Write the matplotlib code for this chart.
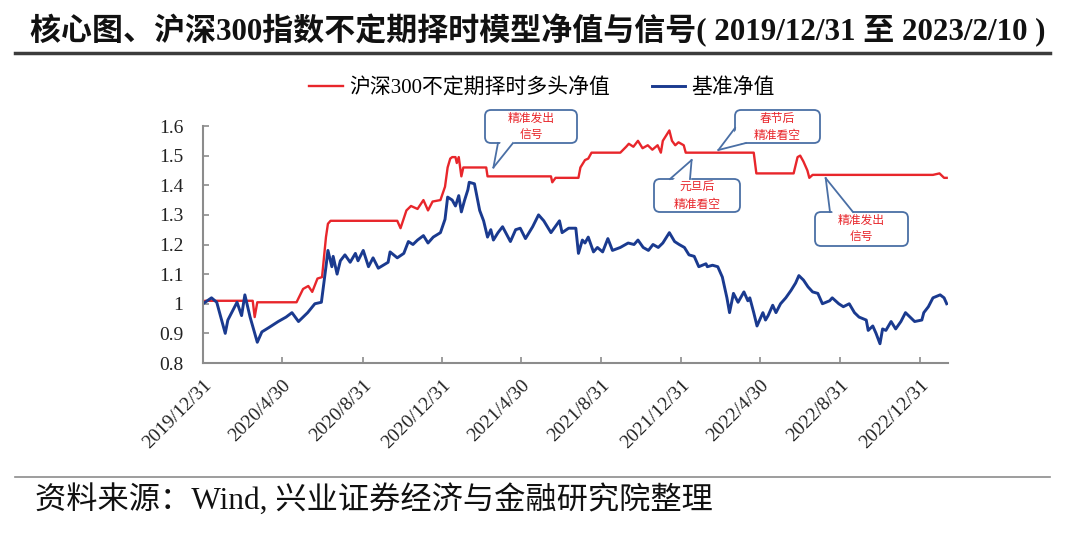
import matplotlib
matplotlib.use("Agg")
import matplotlib.pyplot as plt
import matplotlib.dates as mdates
from matplotlib.patches import FancyBboxPatch, Polygon
from matplotlib.lines import Line2D
from matplotlib.transforms import IdentityTransform
import pandas as pd

W, H = 1080, 541
RED = "#E8262B"
BLUE = "#1A3A8F"
BOX_EDGE = "#4A6FA5"
SERIF = ["Liberation Serif", "Noto Sans CJK SC"]
CJK = ["Noto Sans CJK SC", "DejaVu Sans"]

title = "核心图、沪深300指数不定期择时模型净值与信号( 2019/12/31 至 2023/2/10 )"
source = "资料来源：Wind, 兴业证券经济与金融研究院整理"
strat_name = "沪深300不定期择时多头净值"
bench_name = "基准净值"

x_tick_labels = ["2019/12/31", "2020/4/30", "2020/8/31", "2020/12/31", "2021/4/30",
                 "2021/8/31", "2021/12/31", "2022/4/30", "2022/8/31", "2022/12/31"]
y_ticks = [0.8, 0.9, 1.0, 1.1, 1.2, 1.3, 1.4, 1.5, 1.6]
y_tick_labels = ["0.8", "0.9", "1", "1.1", "1.2", "1.3", "1.4", "1.5", "1.6"]

# strategy (red) net value
strat_dates = ["2019-12-31", "2020-01-03", "2020-03-16", "2020-03-19", "2020-03-23", "2020-05-22",
               "2020-06-01", "2020-06-09", "2020-06-15", "2020-06-23", "2020-06-30", "2020-07-06",
               "2020-07-09", "2020-07-13", "2020-10-23", "2020-10-28", "2020-11-06", "2020-11-13",
               "2020-11-23", "2020-12-02", "2020-12-09", "2020-12-16", "2020-12-28", "2021-01-04",
               "2021-01-08", "2021-01-12", "2021-01-15", "2021-01-20", "2021-01-22", "2021-01-25",
               "2021-01-29", "2021-02-01", "2021-03-08", "2021-03-10", "2021-06-15", "2021-06-17",
               "2021-06-22", "2021-07-27", "2021-07-30", "2021-08-06", "2021-08-11", "2021-08-16",
               "2021-09-29", "2021-10-08", "2021-10-12", "2021-10-19", "2021-10-26", "2021-11-02",
               "2021-11-10", "2021-11-17", "2021-11-25", "2021-11-30", "2021-12-03", "2021-12-13",
               "2021-12-17", "2021-12-22", "2021-12-27", "2022-01-04", "2022-01-07", "2022-04-21",
               "2022-04-25", "2022-06-21", "2022-06-27", "2022-07-01", "2022-07-06", "2022-07-12",
               "2022-07-15", "2022-07-20", "2023-01-20", "2023-01-30", "2023-02-06", "2023-02-10"]
strat_vals = [1.00, 1.01, 1.01, 0.955, 1.005, 1.005,
              1.05, 1.06, 1.04, 1.085, 1.09, 1.225,
              1.27, 1.28, 1.28, 1.255, 1.315, 1.33,
              1.32, 1.35, 1.315, 1.345, 1.35, 1.395,
              1.46, 1.49, 1.495, 1.495, 1.475, 1.495,
              1.43, 1.46, 1.46, 1.43, 1.43, 1.41,
              1.425, 1.425, 1.46, 1.485, 1.49, 1.51,
              1.51, 1.53, 1.54, 1.53, 1.55, 1.525,
              1.535, 1.52, 1.535, 1.51, 1.55, 1.585,
              1.55, 1.535, 1.545, 1.535, 1.51, 1.51,
              1.44, 1.44, 1.495, 1.50, 1.48, 1.45,
              1.425, 1.435, 1.435, 1.44, 1.425, 1.425]

# benchmark (blue) net value
bench_dates = ["2019-12-31", "2020-01-13", "2020-01-21", "2020-02-03", "2020-02-07", "2020-02-21",
               "2020-02-28", "2020-03-04", "2020-03-12", "2020-03-23", "2020-03-30", "2020-04-10",
               "2020-04-24", "2020-05-06", "2020-05-15", "2020-05-25", "2020-06-08", "2020-06-19",
               "2020-06-29", "2020-07-06", "2020-07-09", "2020-07-15", "2020-07-17", "2020-07-23",
               "2020-07-28", "2020-08-04", "2020-08-12", "2020-08-20", "2020-08-24", "2020-09-01",
               "2020-09-09", "2020-09-16", "2020-09-24", "2020-10-09", "2020-10-12", "2020-10-23",
               "2020-11-02", "2020-11-09", "2020-11-16", "2020-11-23", "2020-12-02", "2020-12-09",
               "2020-12-17", "2020-12-28", "2021-01-04", "2021-01-08", "2021-01-15", "2021-01-20",
               "2021-01-25", "2021-01-29", "2021-02-03", "2021-02-08", "2021-02-10", "2021-02-18",
               "2021-02-22", "2021-02-26", "2021-03-04", "2021-03-10", "2021-03-15", "2021-03-19",
               "2021-03-26", "2021-04-02", "2021-04-14", "2021-04-22", "2021-04-29", "2021-05-07",
               "2021-05-18", "2021-05-27", "2021-06-04", "2021-06-15", "2021-06-28", "2021-07-02",
               "2021-07-12", "2021-07-23", "2021-07-27", "2021-08-02", "2021-08-06", "2021-08-11",
               "2021-08-19", "2021-08-25", "2021-09-02", "2021-09-10", "2021-09-17", "2021-09-29",
               "2021-10-11", "2021-10-20", "2021-10-26", "2021-11-03", "2021-11-11", "2021-11-18",
               "2021-11-26", "2021-12-03", "2021-12-13", "2021-12-21", "2021-12-28", "2022-01-05",
               "2022-01-12", "2022-01-20", "2022-01-27", "2022-02-07", "2022-02-09", "2022-02-17",
               "2022-02-25", "2022-03-04", "2022-03-11", "2022-03-15", "2022-03-21", "2022-03-28",
               "2022-04-06", "2022-04-12", "2022-04-15", "2022-04-21", "2022-04-26", "2022-05-05",
               "2022-05-09", "2022-05-13", "2022-05-20", "2022-05-25", "2022-06-01", "2022-06-09",
               "2022-06-17", "2022-06-24", "2022-06-29", "2022-07-06", "2022-07-13", "2022-07-20",
               "2022-07-28", "2022-08-04", "2022-08-15", "2022-08-19", "2022-08-29", "2022-09-05",
               "2022-09-14", "2022-09-22", "2022-09-29", "2022-10-10", "2022-10-13", "2022-10-20",
               "2022-10-25", "2022-10-31", "2022-11-04", "2022-11-09", "2022-11-17", "2022-11-24",
               "2022-12-02", "2022-12-09", "2022-12-16", "2022-12-23", "2023-01-03", "2023-01-06",
               "2023-01-13", "2023-01-20", "2023-01-31", "2023-02-06", "2023-02-10"]
bench_vals = [1.00, 1.02, 1.005, 0.90, 0.945, 1.005,
              0.96, 1.03, 0.955, 0.87, 0.905, 0.92,
              0.94, 0.955, 0.97, 0.94, 0.97, 1.00,
              1.005, 1.125, 1.18, 1.125, 1.16, 1.10,
              1.145, 1.165, 1.14, 1.17, 1.145, 1.18,
              1.125, 1.155, 1.12, 1.14, 1.175, 1.155,
              1.17, 1.21, 1.20, 1.215, 1.23, 1.205,
              1.225, 1.24, 1.285, 1.36, 1.35, 1.33,
              1.365, 1.31, 1.35, 1.385, 1.41, 1.405,
              1.36, 1.315, 1.28, 1.225, 1.25, 1.215,
              1.24, 1.26, 1.21, 1.25, 1.255, 1.22,
              1.26, 1.30, 1.28, 1.24, 1.28, 1.24,
              1.255, 1.255, 1.17, 1.215, 1.205, 1.225,
              1.175, 1.19, 1.175, 1.22, 1.18, 1.19,
              1.205, 1.20, 1.215, 1.19, 1.18, 1.20,
              1.19, 1.205, 1.24, 1.21, 1.20, 1.19,
              1.165, 1.16, 1.125, 1.135, 1.125, 1.13,
              1.125, 1.09, 1.02, 0.97, 1.035, 1.005,
              1.04, 1.01, 1.02, 0.97, 0.925, 0.97,
              0.945, 0.96, 0.995, 0.97, 1.00, 1.02,
              1.045, 1.07, 1.095, 1.08, 1.057, 1.04,
              1.035, 1.00, 1.01, 1.02, 1.00, 0.99,
              1.00, 0.97, 0.955, 0.945, 0.91, 0.925,
              0.90, 0.865, 0.915, 0.91, 0.94, 0.915,
              0.94, 0.97, 0.955, 0.94, 0.945, 0.97,
              0.99, 1.02, 1.03, 1.02, 1.00]

# callouts: text, box (pixels from top-left), pointer base points (pixels), pointer tip (date, value)
callouts = [
    ("精准发出\n信号", (485, 110, 577, 143), ((498, 143), (513, 143)), ("2021-03-19", 1.46)),
    ("春节后\n精准看空", (735, 110, 820, 143), ((735, 128), (746, 143)), ("2022-02-26", 1.519)),
    ("元旦后\n精准看空", (654, 179, 740, 212), ((670, 179), (690, 179)), ("2022-01-16", 1.485)),
    ("精准发出\n信号", (815, 212, 908, 246), ((830, 212), (853, 212)), ("2022-08-09", 1.424)),
]

fig = plt.figure(figsize=(W / 100, H / 100), dpi=100)
ax = fig.add_axes([203 / W, 1 - 363 / H, (948 - 203) / W, (363 - 126) / H])

ax.plot(pd.to_datetime(strat_dates), strat_vals, color=RED, lw=1.7, label=strat_name)
ax.plot(pd.to_datetime(bench_dates), bench_vals, color=BLUE, lw=2.1, label=bench_name)

ax.set_ylim(0.8, 1.6)
ax.set_yticks(y_ticks)
ax.set_yticklabels(y_tick_labels, family=SERIF, fontsize=14)
ax.set_xlim(pd.Timestamp("2019-12-31"), pd.Timestamp("2023-02-12"))
ax.set_xticks(pd.to_datetime(x_tick_labels, format="%Y/%m/%d"))
ax.set_xticklabels(x_tick_labels, rotation=45, ha="right", va="top",
                   rotation_mode="anchor", family=SERIF, fontsize=14)
for s in ["top", "right"]:
    ax.spines[s].set_visible(False)
for s in ["left", "bottom"]:
    ax.spines[s].set_color("#8C8C8C")
    ax.spines[s].set_linewidth(1.5)
ax.tick_params(direction="in", length=4, width=1.2, color="#8C8C8C", labelcolor="#222222")
ax.tick_params(axis="y", pad=14)
ax.tick_params(axis="x", pad=10)

fig.legend(loc="center", bbox_to_anchor=(542 / W, 1 - 88 / H), ncol=2, frameon=False,
           prop={"family": SERIF, "size": 15}, handlelength=1.6, columnspacing=2.0,
           handletextpad=0.3)

# title and source lines
fig.text(30 / W, 1 - 30 / H, title, family=SERIF, weight="bold", fontsize=22.3,
         ha="left", va="center", color="#111111")
fig.add_artist(Line2D([15 / W, 1050 / W], [1 - 53 / H, 1 - 53 / H], color="#3C3C3C", lw=2.5))
fig.add_artist(Line2D([15 / W, 1050 / W], [1 - 477 / H, 1 - 477 / H], color="#8C8C8C", lw=1.2))
fig.text(35 / W, 1 - 500 / H, source, family=SERIF, fontsize=22.5, ha="left", va="center",
         color="#111111")

ident = IdentityTransform()
for text, box, base, tip in callouts:
    x0, y0, x1, y1 = box
    fig.add_artist(FancyBboxPatch((x0, H - y1), x1 - x0, y1 - y0,
                                  boxstyle="round,pad=0,rounding_size=6", transform=ident,
                                  fc="white", ec=BOX_EDGE, lw=1.3, zorder=5))
    tx, ty = ax.transData.transform((mdates.date2num(pd.Timestamp(tip[0])), tip[1]))
    cx, cy = (x0 + x1) / 2, (y0 + y1) / 2
    fill = []
    for bx, by in base:
        dx, dy = cx - bx, cy - by
        n = (dx ** 2 + dy ** 2) ** 0.5
        fill.append((bx + 3 * dx / n, H - (by + 3 * dy / n)))
    fig.add_artist(Polygon([fill[0], (tx, ty), fill[1]], closed=True, transform=ident,
                           fc="white", ec="none", zorder=6))
    for bx, by in base:
        fig.add_artist(Line2D([bx, tx], [H - by, ty], transform=ident, color=BOX_EDGE,
                              lw=1.3, zorder=7))
    fig.text(cx / W, 1 - cy / H, text, family=CJK, fontsize=8.5, color=RED, ha="center",
             va="center", linespacing=1.4, zorder=8)

fig.savefig("out.png", dpi=100)
